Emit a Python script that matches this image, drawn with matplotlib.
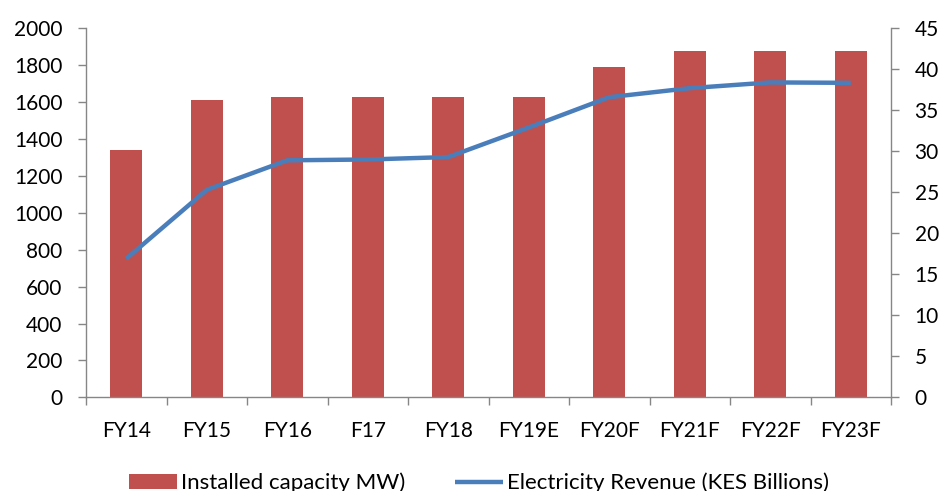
import matplotlib
matplotlib.use("Agg")
import matplotlib.pyplot as plt
import numpy as np

categories = ["FY14", "FY15", "FY16", "F17", "FY18", "FY19E", "FY20F", "FY21F", "FY22F", "FY23F"]
capacity_mw = [1340, 1613, 1629, 1630, 1630, 1630, 1792, 1877, 1877, 1877]
revenue_kes_bn = [16.9, 25.3, 28.9, 29.0, 29.3, 32.9, 36.6, 37.7, 38.4, 38.35]

plt.rcParams["font.family"] = ["Lato", "DejaVu Sans"]
axis_grey = "#868686"
label_size = 15
legend_size = 16

fig = plt.figure(figsize=(9.42, 4.91), dpi=100)
ax = fig.add_axes([86 / 942, 1 - 397.3 / 491, (891 - 86) / 942, (397.3 - 28.3) / 491])
ax2 = ax.twinx()

x = np.arange(len(categories))
bars = ax.bar(x, capacity_mw, width=0.4, color="#c0504d", label="Installed capacity MW)", zorder=2)
line, = ax2.plot(x, revenue_kes_bn, color="#4a7ebb", linewidth=3.2, solid_capstyle="butt",
                 label="Electricity Revenue (KES Billions)", zorder=3)

ax.set_xlim(-0.5, len(categories) - 0.5)
ax.set_ylim(0, 2000)
ax.set_yticks(np.arange(0, 2001, 200))
ax2.set_ylim(0, 45)
ax2.set_yticks(np.arange(0, 46, 5))

# category boundaries carry the tick marks, labels sit at the centres
ax.set_xticks(np.arange(-0.5, len(categories), 1.0), minor=False)
ax.set_xticklabels([])
ax.set_xticks(x, minor=True)
ax.set_xticklabels(categories, minor=True)
ax.tick_params(axis="x", which="major", length=6, direction="out", color=axis_grey, width=1)
ax.tick_params(axis="x", which="minor", length=0, pad=17, labelsize=label_size)
ax.tick_params(axis="y", length=6, direction="out", color=axis_grey, width=1, labelsize=label_size, pad=11)
ax2.tick_params(axis="y", length=6, direction="out", color=axis_grey, width=1, labelsize=label_size, pad=11)

for a in (ax, ax2):
    a.spines["top"].set_visible(False)
    for side in ("left", "right", "bottom"):
        a.spines[side].set_color(axis_grey)
        a.spines[side].set_linewidth(1)
ax2.spines["bottom"].set_visible(False)
ax2.spines["left"].set_visible(False)
ax.spines["right"].set_visible(False)

fig.legend(handles=[bars, line], loc="center", bbox_to_anchor=(479 / 942, 8 / 491), ncol=2,
           frameon=False, fontsize=legend_size, handlelength=2.16, handletextpad=0.18,
           columnspacing=2.25)

fig.savefig("out.png", dpi=100)
